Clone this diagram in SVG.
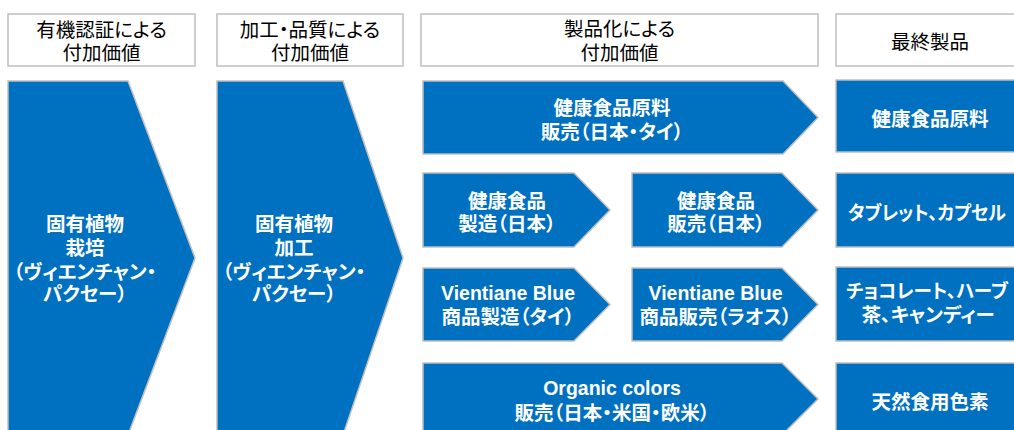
<svg xmlns="http://www.w3.org/2000/svg" width="1014" height="430" viewBox="0 0 1014 430">
<style>
.hdr{fill:#ffffff;stroke:#bfbfbf;stroke-width:1.5}
.blue{fill:#0070c0;stroke:#bfbfbf;stroke-width:1.5}
text{font-family:"Liberation Sans","Noto Sans CJK JP",sans-serif;font-size:19.5px;text-anchor:middle;font-feature-settings:"palt"}
.ht{fill:#000000}
.bt{fill:#ffffff;font-weight:bold}
</style>
<rect width="1014" height="430" fill="#ffffff"/>
<g id="headers">
<g id="h1"><rect class="hdr" x="8" y="14" width="187" height="52"/><text class="ht" x="101.5" y="37">有機認証による</text><text class="ht" x="101.5" y="60">付加価値</text></g>
<g id="h2"><rect class="hdr" x="217" y="14" width="186" height="52"/><text class="ht" x="310" y="37">加工・品質による</text><text class="ht" x="310" y="60">付加価値</text></g>
<g id="h3"><rect class="hdr" x="421" y="14" width="397" height="52"/><text class="ht" x="619.5" y="36">製品化による</text><text class="ht" x="619.5" y="60">付加価値</text></g>
<g id="h4"><rect class="hdr" x="836" y="14" width="190" height="52"/><text class="ht" x="930" y="49">最終製品</text></g>
</g>
<g id="connectors"></g>
<g id="n1"><polygon class="blue" points="8,81 128,81 195,258 128,435 8,435"/>
<text class="bt" x="85" y="231">固有植物</text><text class="bt" x="85" y="255">栽培</text><text class="bt" x="85" y="279">（ヴィエンチャン・</text><text class="bt" x="85" y="301">パクセー）</text></g>
<g id="n2"><polygon class="blue" points="217,81 343,81 403,258 343,435 217,435"/>
<text class="bt" x="294" y="231">固有植物</text><text class="bt" x="294" y="255">加工</text><text class="bt" x="294" y="279">（ヴィエンチャン・</text><text class="bt" x="294" y="301">パクセー）</text></g>
<g id="n3"><polygon class="blue" points="423,81 783,81 818,117.5 783,154 423,154"/>
<text class="bt" x="612" y="115">健康食品原料</text><text class="bt" x="612" y="139">販売（日本・タイ）</text></g>
<g id="n4"><polygon class="blue" points="423,173 574,173 610,210 574,247 423,247"/>
<text class="bt" x="507" y="208">健康食品</text><text class="bt" x="507" y="231">製造（日本）</text></g>
<g id="n5"><polygon class="blue" points="632,173 782,173 818,210 782,247 632,247"/>
<text class="bt" x="716" y="208">健康食品</text><text class="bt" x="716" y="231">販売（日本）</text></g>
<g id="n6"><polygon class="blue" points="423,268 574,268 610,304.5 574,341 423,341"/>
<text class="bt" x="508" y="300">Vientiane Blue</text><text class="bt" x="508" y="324">商品製造（タイ）</text></g>
<g id="n7"><polygon class="blue" points="632,268 782,268 818,304.5 782,341 632,341"/>
<text class="bt" x="715.5" y="300">Vientiane Blue</text><text class="bt" x="715.5" y="324">商品販売（ラオス）</text></g>
<g id="n8"><polygon class="blue" points="423,363 782,363 818,399 782,435 423,435"/>
<text class="bt" x="612" y="395">Organic colors</text><text class="bt" x="612" y="420">販売（日本・米国・欧米）</text></g>
<g id="p1"><rect class="blue" x="836" y="80" width="190" height="72"/><text class="bt" x="930" y="126">健康食品原料</text></g>
<g id="p2"><rect class="blue" x="836" y="173" width="190" height="74"/><text class="bt" x="927" y="220" textLength="158" lengthAdjust="spacingAndGlyphs">タブレット、カプセル</text></g>
<g id="p3"><rect class="blue" x="836" y="267" width="190" height="74"/><text class="bt" x="927" y="298" textLength="162" lengthAdjust="spacingAndGlyphs">チョコレート、ハーブ</text><text class="bt" x="928" y="322">茶、キャンディー</text></g>
<g id="p4"><rect class="blue" x="836" y="363" width="190" height="74"/><text class="bt" x="930" y="409">天然食用色素</text></g>
</svg>
